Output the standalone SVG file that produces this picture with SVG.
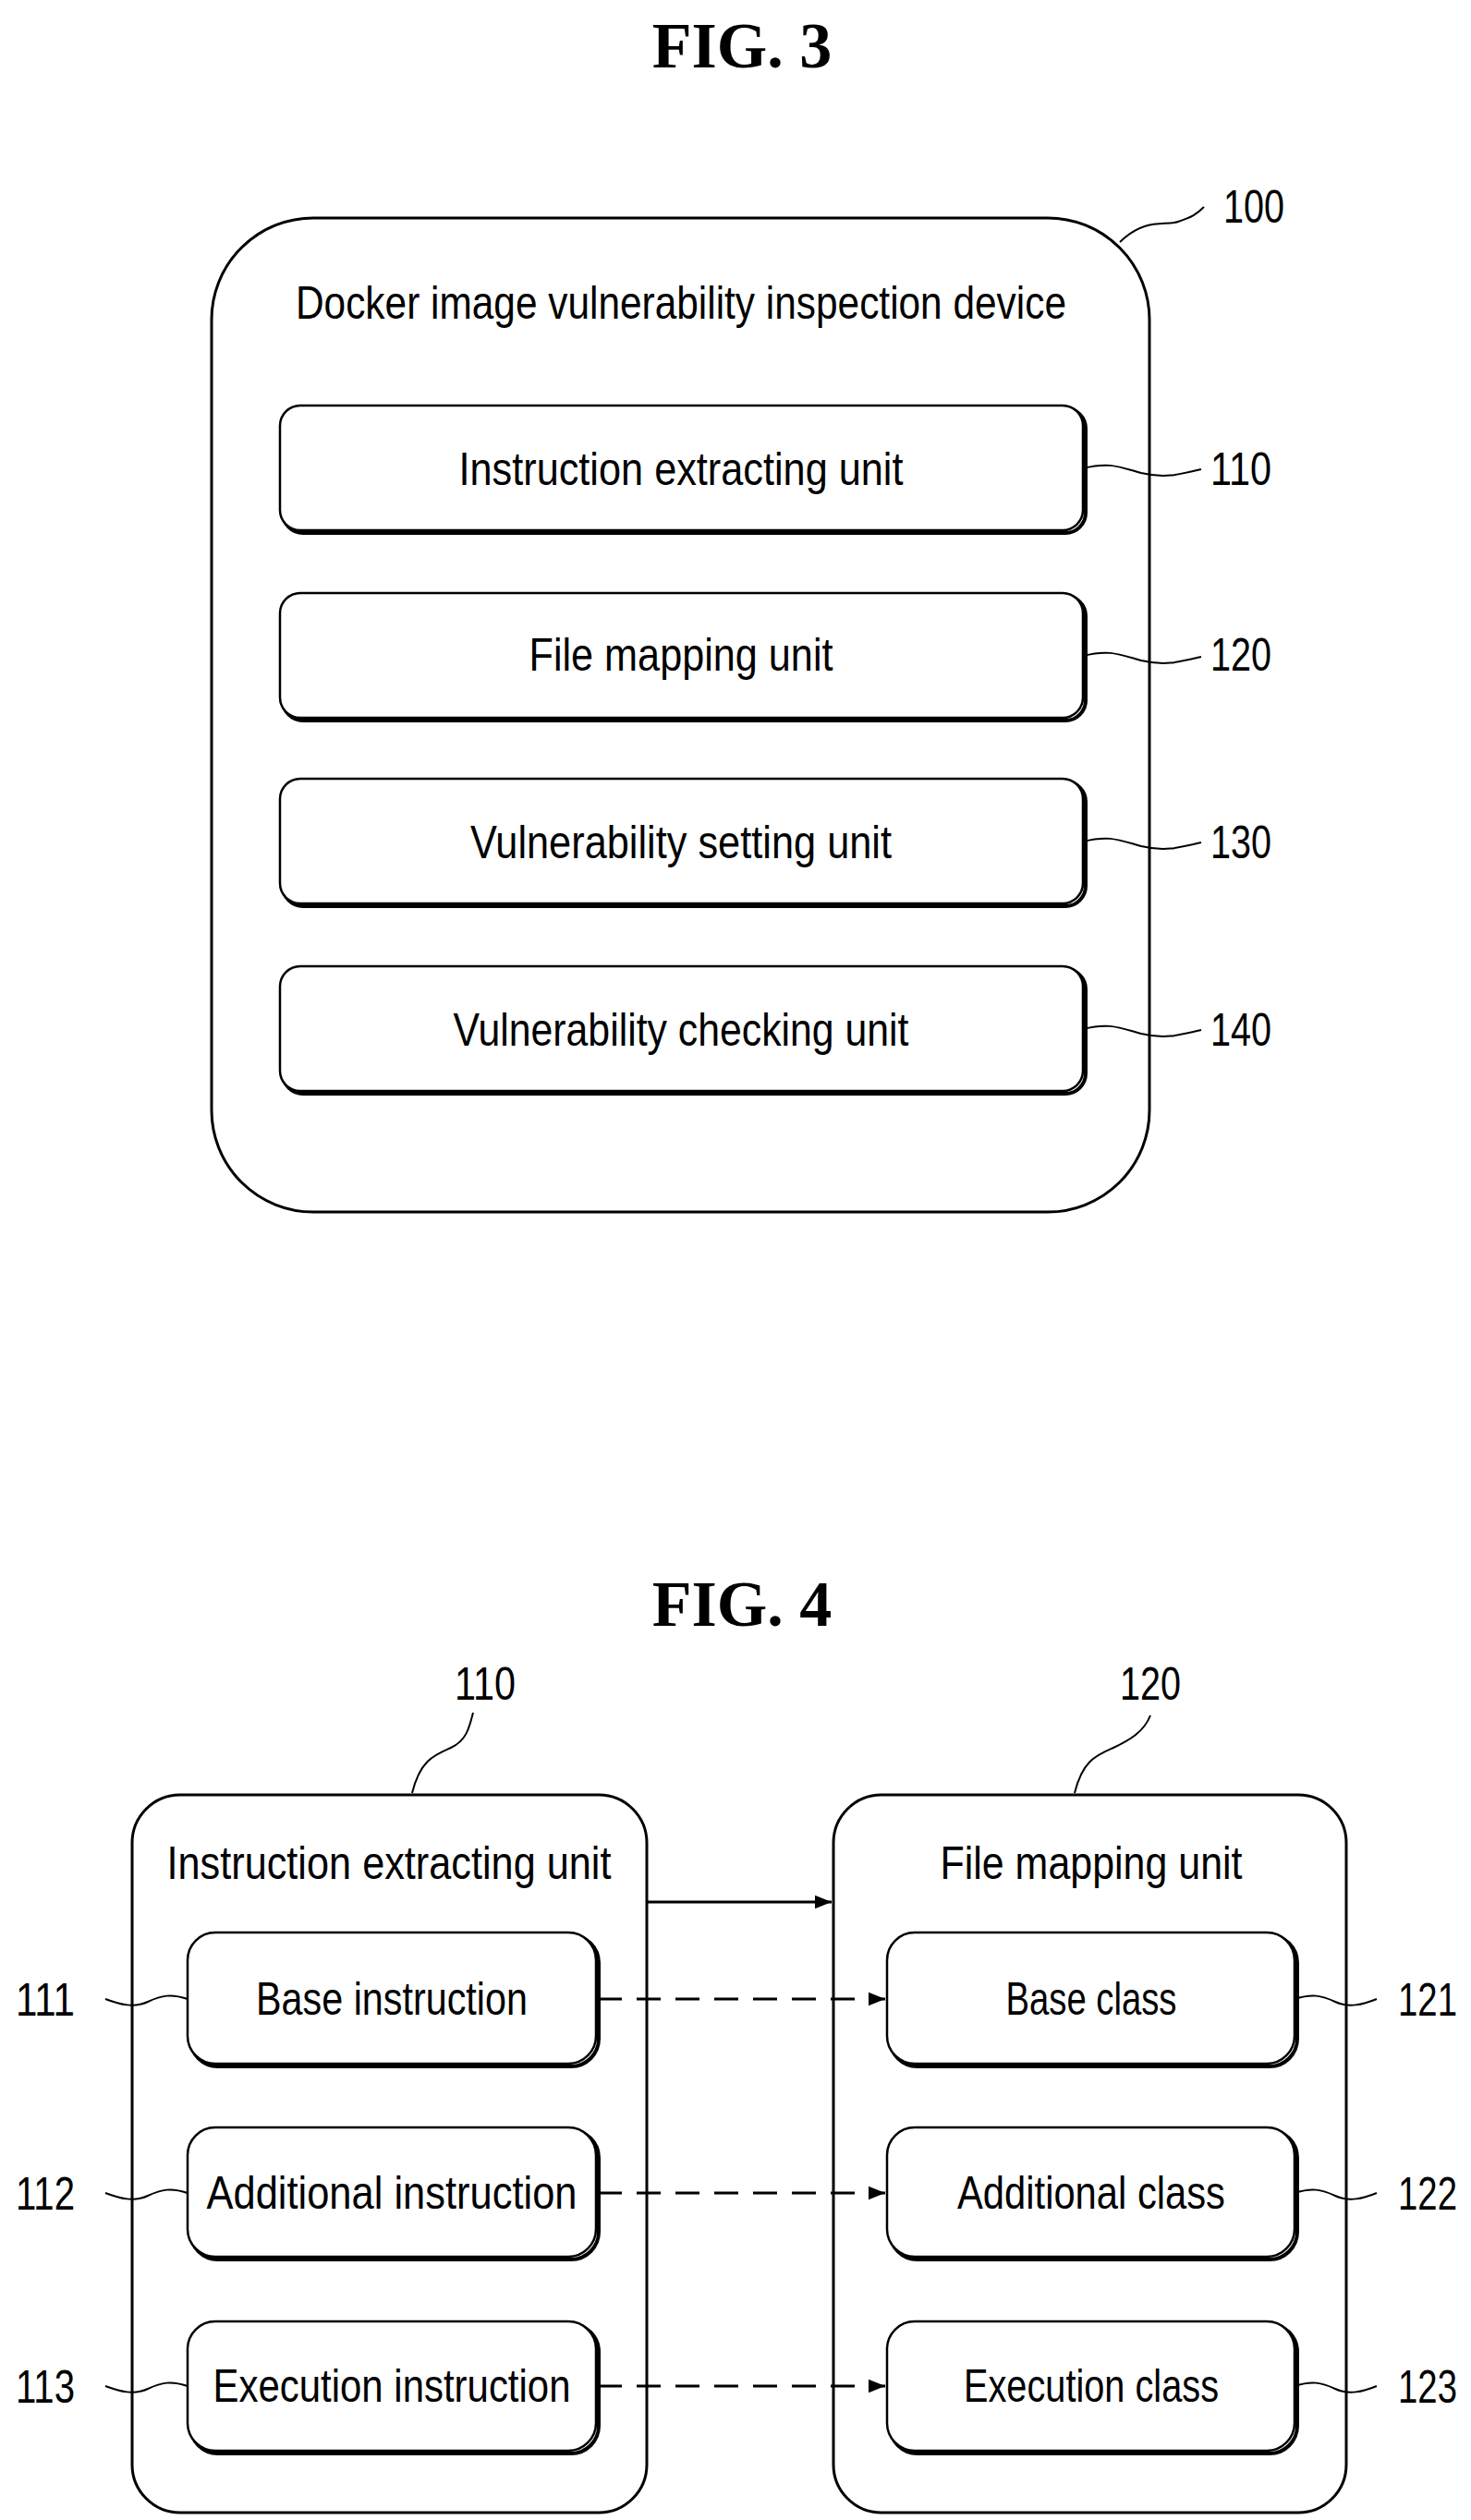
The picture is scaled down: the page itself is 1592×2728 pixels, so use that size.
<svg xmlns="http://www.w3.org/2000/svg" width="1592" height="2728" viewBox="0 0 1592 2728">
<style>
.t{font-family:"Liberation Sans",Arial,sans-serif;font-size:50px;fill:#000;text-anchor:middle}
.fig{font-family:"Liberation Serif","Times New Roman",serif;font-size:70px;font-weight:bold;text-anchor:middle}
.o{fill:none;stroke:#000;stroke-width:3}
.sh{fill:none;stroke:#000;stroke-width:4}
.b{fill:#fff;stroke:#000;stroke-width:2.5}
.l{fill:none;stroke:#000;stroke-width:2}
.d{fill:none;stroke:#000;stroke-width:3;stroke-dasharray:26 16}
</style>
<defs><marker id="ah" viewBox="0 0 10 10" refX="10" refY="5" markerWidth="10" markerHeight="6" markerUnits="strokeWidth" orient="auto"><path d="M0,1 L10,5 L0,9 z" fill="#000"/></marker></defs>
<text class="fig" x="803" y="73">FIG. 3</text>
<g id="n100"><rect class="o" x="229" y="236" width="1015" height="1076" rx="110"/>
<text class="t" x="737" y="345" textLength="834" lengthAdjust="spacingAndGlyphs">Docker image vulnerability inspection device</text>
<path class="l" d="M1212,262 C1240,235 1260,245 1275,240 C1290,235 1295,232 1303,224"/><text class="t" x="1357" y="241" textLength="66" lengthAdjust="spacingAndGlyphs">100</text></g>
<g id="n110"><rect class="sh" x="306" y="442" width="869" height="135" rx="22"/><rect class="b" x="303" y="439" width="869" height="135" rx="22"/>
<text class="t" x="737" y="525" textLength="481" lengthAdjust="spacingAndGlyphs">Instruction extracting unit</text>
<path class="l" d="M1172,507 C1200,500 1210,505 1235,512 C1260,518 1275,514 1300,508"/><text class="t" x="1343" y="525" textLength="66" lengthAdjust="spacingAndGlyphs">110</text></g>
<g id="n120"><rect class="sh" x="306" y="645" width="869" height="135" rx="22"/><rect class="b" x="303" y="642" width="869" height="135" rx="22"/>
<text class="t" x="737" y="726" textLength="329" lengthAdjust="spacingAndGlyphs">File mapping unit</text>
<path class="l" d="M1172,710 C1200,703 1210,708 1235,715 C1260,721 1275,717 1300,711"/><text class="t" x="1343" y="726" textLength="66" lengthAdjust="spacingAndGlyphs">120</text></g>
<g id="n130"><rect class="sh" x="306" y="846" width="869" height="135" rx="22"/><rect class="b" x="303" y="843" width="869" height="135" rx="22"/>
<text class="t" x="737" y="929" textLength="456" lengthAdjust="spacingAndGlyphs">Vulnerability setting unit</text>
<path class="l" d="M1172,911 C1200,904 1210,909 1235,916 C1260,922 1275,918 1300,912"/><text class="t" x="1343" y="929" textLength="66" lengthAdjust="spacingAndGlyphs">130</text></g>
<g id="n140"><rect class="sh" x="306" y="1049" width="869" height="135" rx="22"/><rect class="b" x="303" y="1046" width="869" height="135" rx="22"/>
<text class="t" x="737" y="1132" textLength="493" lengthAdjust="spacingAndGlyphs">Vulnerability checking unit</text>
<path class="l" d="M1172,1114 C1200,1107 1210,1112 1235,1119 C1260,1125 1275,1121 1300,1115"/><text class="t" x="1343" y="1132" textLength="66" lengthAdjust="spacingAndGlyphs">140</text></g>

<text class="fig" x="803" y="1760">FIG. 4</text>
<g id="f4_110"><rect class="o" x="143" y="1943" width="557" height="777" rx="52"/>
<text class="t" x="421" y="2034" textLength="481" lengthAdjust="spacingAndGlyphs">Instruction extracting unit</text>
<path class="l" d="M446,1941 C455,1905 470,1900 488,1892 C505,1884 508,1870 512,1854"/><text class="t" x="525" y="1840" textLength="66" lengthAdjust="spacingAndGlyphs">110</text></g>
<g id="f4_120"><rect class="o" x="902" y="1943" width="555" height="777" rx="52"/>
<text class="t" x="1181" y="2034" textLength="327" lengthAdjust="spacingAndGlyphs">File mapping unit</text>
<path class="l" d="M1163,1941 C1172,1905 1187,1900 1205,1892 C1222,1884 1238,1875 1245,1857"/><text class="t" x="1245" y="1840" textLength="66" lengthAdjust="spacingAndGlyphs">120</text></g>
<g id="n111"><rect class="sh" x="206" y="2095" width="442" height="142" rx="30"/><rect class="b" x="203" y="2092" width="442" height="142" rx="30"/>
<text class="t" x="424" y="2181" textLength="294" lengthAdjust="spacingAndGlyphs">Base instruction</text>
<path class="l" d="M203,2164 C185,2158 175,2160 160,2167 C145,2174 130,2170 114,2164"/><text class="t" x="49" y="2182" textLength="64" lengthAdjust="spacingAndGlyphs">111</text></g>
<g id="n112"><rect class="sh" x="206" y="2306" width="442" height="140" rx="30"/><rect class="b" x="203" y="2303" width="442" height="140" rx="30"/>
<text class="t" x="424" y="2391" textLength="401" lengthAdjust="spacingAndGlyphs">Additional instruction</text>
<path class="l" d="M203,2374 C185,2368 175,2370 160,2377 C145,2384 130,2380 114,2374"/><text class="t" x="49" y="2392" textLength="64" lengthAdjust="spacingAndGlyphs">112</text></g>
<g id="n113"><rect class="sh" x="206" y="2516" width="442" height="140" rx="30"/><rect class="b" x="203" y="2513" width="442" height="140" rx="30"/>
<text class="t" x="424" y="2600" textLength="387" lengthAdjust="spacingAndGlyphs">Execution instruction</text>
<path class="l" d="M203,2583 C185,2577 175,2579 160,2586 C145,2593 130,2589 114,2583"/><text class="t" x="49" y="2601" textLength="64" lengthAdjust="spacingAndGlyphs">113</text></g>
<g id="n121"><rect class="sh" x="963" y="2095" width="441" height="142" rx="30"/><rect class="b" x="960" y="2092" width="441" height="142" rx="30"/>
<text class="t" x="1181" y="2181" textLength="185" lengthAdjust="spacingAndGlyphs">Base class</text>
<path class="l" d="M1401,2164 C1420,2158 1430,2160 1445,2167 C1460,2174 1475,2170 1490,2164"/><text class="t" x="1545" y="2182" textLength="64" lengthAdjust="spacingAndGlyphs">121</text></g>
<g id="n122"><rect class="sh" x="963" y="2306" width="441" height="140" rx="30"/><rect class="b" x="960" y="2303" width="441" height="140" rx="30"/>
<text class="t" x="1181" y="2391" textLength="290" lengthAdjust="spacingAndGlyphs">Additional class</text>
<path class="l" d="M1401,2374 C1420,2368 1430,2370 1445,2377 C1460,2384 1475,2380 1490,2374"/><text class="t" x="1545" y="2392" textLength="64" lengthAdjust="spacingAndGlyphs">122</text></g>
<g id="n123"><rect class="sh" x="963" y="2516" width="441" height="140" rx="30"/><rect class="b" x="960" y="2513" width="441" height="140" rx="30"/>
<text class="t" x="1181" y="2600" textLength="276" lengthAdjust="spacingAndGlyphs">Execution class</text>
<path class="l" d="M1401,2583 C1420,2577 1430,2579 1445,2586 C1460,2593 1475,2589 1490,2583"/><text class="t" x="1545" y="2601" textLength="64" lengthAdjust="spacingAndGlyphs">123</text></g>
<g id="connectors">
<line class="o" x1="700" y1="2059" x2="900" y2="2059" marker-end="url(#ah)"/>
<line class="d" x1="647" y1="2164" x2="958" y2="2164" marker-end="url(#ah)"/>
<line class="d" x1="647" y1="2374" x2="958" y2="2374" marker-end="url(#ah)"/>
<line class="d" x1="647" y1="2583" x2="958" y2="2583" marker-end="url(#ah)"/>
</g>
</svg>
